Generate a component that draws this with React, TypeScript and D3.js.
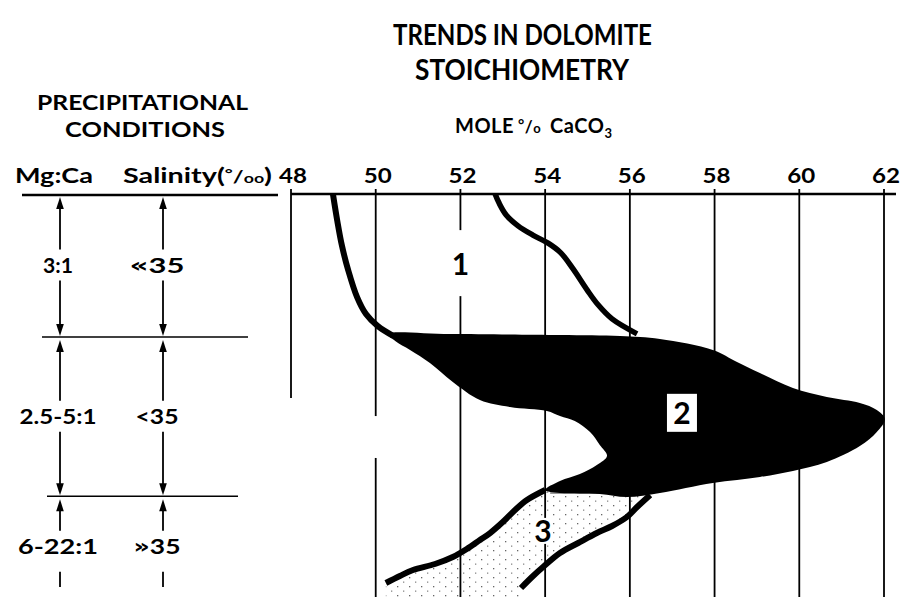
import React from 'react';
import * as d3 from 'd3';

const W = 913;
const H = 597;

// Mole % CaCO3 tick values
const xTicks = [48, 50, 52, 54, 56, 58, 60, 62];

// Vertical "depth" position (0 = top of diagram, 100 = bottom), zone boundaries of precipitational conditions
const zoneBounds = [0, 35.5, 75, 100];
const mgCaLabels = ['3:1', '2.5-5:1', '6-22:1'];
const salinityLabels = ['«35', '<35', '»35'];

// Field 1 boundaries [mole % CaCO3, depth]
const curve1Left: [number, number][] = [
  [48.99, 0], [49.09, 6.5], [49.2, 12.7], [49.35, 18.9], [49.56, 25.6], [49.77, 29.8], [50.05, 32.8], [50.41, 35.2],
];
const curve1Right: [number, number][] = [
  [52.82, 0], [52.91, 2.2], [53.08, 5.2], [53.36, 7.9], [53.71, 10.2], [54.07, 12.2], [54.37, 14.6],
  [54.66, 18.6], [54.99, 23.8], [55.25, 27.5], [55.58, 31.0], [56.17, 34.7],
];

// Field 2 (black) outline
const field2: [number, number][] = [
  [50.29, 34.74], [51.75, 34.74], [54.35, 34.99], [55.77, 35.24], [56.71, 35.98], [57.96, 38.71], [58.53, 41.69],
  [59.07, 44.42], [59.85, 48.14], [60.65, 50.37], [61.43, 51.86], [61.83, 53.6], [62.02, 55.83],
  [61.83, 59.06], [61.43, 62.53], [60.65, 66.5], [59.85, 68.73], [59.07, 70.22], [57.96, 71.71], [56.71, 74.19],
  [55.93, 75.19], [55.29, 74.44], [54.35, 74.19], [54.0, 73.45],
  [54.35, 71.22], [54.82, 69.48], [55.22, 67.25], [55.46, 65.01], [55.29, 62.28], [55.06, 59.06], [54.7, 56.33],
  [54.35, 55.09], [54.04, 53.85], [53.17, 52.85], [52.46, 51.12], [51.82, 46.65], [51.28, 41.94], [50.81, 38.71],
  [50.46, 36.48],
];

// Field 3 boundaries
const curve3Left: [number, number][] = [
  [54.0, 73.45], [53.57, 75.93], [53.29, 78.41], [53.0, 81.39], [52.7, 84.12], [52.46, 85.86], [52.15, 88.09],
  [51.82, 90.07], [51.4, 91.81], [50.88, 93.3], [50.57, 94.79], [50.24, 96.53],
];
const curve3Right: [number, number][] = [
  [56.48, 74.69], [56.17, 77.67], [55.93, 80.15], [55.58, 82.38], [55.22, 84.12], [54.78, 86.6], [54.35, 89.08],
  [53.95, 92.56], [53.69, 95.04], [53.43, 97.77],
];

// Grid line extents (depth ranges) per tick value
const gridSpans: [number, [number, number][]][] = [
  [48, [[0, 50.6]]],
  [50, [[0, 55.1], [65.5, 100]]],
  [52, [[0, 100]]],
  [54, [[0, 100]]],
  [56, [[0, 100]]],
  [58, [[0, 100]]],
  [60, [[0, 100]]],
  [62, [[0, 100]]],
];

const fieldLabels: [string, number, number][] = [
  ['1', 52.0, 17.4],
  ['2', 57.23, 54.3],
  ['3', 53.95, 83.6],
];

// layout: rendered widths of the table labels (px)
const mgCaWidths = [30, 77, 80];
const salWidths = [55, 43, 47];

export default function App() {
  const x = d3.scaleLinear().domain([48, 62]).range([291, 884]);
  const y = d3.scaleLinear().domain([0, 100]).range([194, 597]);

  const smooth = d3.line<[number, number]>().x(d => x(d[0])).y(d => y(d[1])).curve(d3.curveCatmullRom.alpha(0.5));
  const closedSmooth = d3.line<[number, number]>().x(d => x(d[0])).y(d => y(d[1])).curve(d3.curveCatmullRomClosed.alpha(0.5));
  const straight = d3.line<[number, number]>().x(d => x(d[0])).y(d => y(d[1]));

  const leftEnd = curve3Left[curve3Left.length - 1];
  const rightEnd = curve3Right[curve3Right.length - 1];
  const stipple: [number, number][] = [
    ...curve3Left.slice(0, 1),
    [curve3Right[0][0], curve3Right[0][1]],
    ...curve3Right,
    [rightEnd[0], 100],
    [leftEnd[0], 100],
    ...curve3Left.slice().reverse(),
  ];
  const topOf3Y = y(curve3Left[0][1]) + 3;

  const mgX = 60;
  const salX = 163;
  const font = 'Lato, "DejaVu Sans", sans-serif';

  const arrow = (cx: number, from: number, tip: number, key: string, head = true) => {
    const dir = tip < from ? -1 : 1;
    const hl = 12;
    const hw = 3.8;
    return (
      <g key={key}>
        <line x1={cx} x2={cx} y1={from} y2={head ? tip - dir * hl + dir : tip} stroke="#000" strokeWidth={1.8} />
        {head && (
          <path d={`M${cx},${tip} L${cx - hw},${tip - dir * hl} L${cx + hw},${tip - dir * hl} Z`} fill="#000" />
        )}
      </g>
    );
  };

  const salText = (s: string) => {
    const first = s[0];
    const rest = s.slice(1);
    if (first === '«' || first === '»') {
      return (
        <>
          <tspan fontFamily='"DejaVu Sans", sans-serif' fontSize={20} dy={-1}>{first}</tspan>
          <tspan dy={1}>{rest}</tspan>
        </>
      );
    }
    return s;
  };

  return (
    <svg width={W} height={H} style={{ position: 'absolute', left: 0, top: 0, background: '#fff' }} fontFamily={font}>
      <defs>
        <pattern id="dots" width="12" height="9" patternUnits="userSpaceOnUse">
          <rect x="1" y="1" width="1.3" height="1.3" fill="#666" />
          <rect x="7" y="5.5" width="1.3" height="1.3" fill="#888" />
        </pattern>
      </defs>
      <rect width={W} height={H} fill="#fff" />

      {/* Title */}
      <g fontWeight={700} fontSize={28} fill="#000">
        <text x={393} y={45} textLength={259} lengthAdjust="spacingAndGlyphs">TRENDS IN DOLOMITE</text>
        <text x={415} y={80} textLength={214} lengthAdjust="spacingAndGlyphs">STOICHIOMETRY</text>
      </g>
      <g fontWeight={700} fontSize={20} fill="#000">
        <text x={37} y={110} textLength={211} lengthAdjust="spacingAndGlyphs">PRECIPITATIONAL</text>
        <text x={65} y={137} textLength={160} lengthAdjust="spacingAndGlyphs">CONDITIONS</text>
      </g>
      <text x={455} y={133} fontWeight={700} fontSize={20} letterSpacing={0.5}>
        MOLE<tspan dx={4} dy={-3} fontSize={15}>°</tspan>
        <tspan dy={3} fontSize={17}>/</tspan>
        <tspan fontSize={13}>o</tspan>
        <tspan dx={9}>CaCO</tspan>
        <tspan fontSize={13} dy={5}>3</tspan>
      </text>

      {/* Column headers */}
      <text x={15} y={183} fontWeight={700} fontSize={21} textLength={78} lengthAdjust="spacingAndGlyphs">Mg:Ca</text>
      <text x={123} y={183} fontWeight={700} fontSize={21} textLength={149} lengthAdjust="spacingAndGlyphs">
        Salinity(<tspan fontSize={14} dy={-5}>°</tspan>
        <tspan dy={5} fontSize={17}>/</tspan>
        <tspan fontSize={13}>oo</tspan>)
      </text>

      {/* Tick labels */}
      <g fontWeight={700} fontSize={21}>
        {xTicks.map(t => (
          <text key={t} x={x(t) + 2 - 14} y={183} textLength={28} lengthAdjust="spacingAndGlyphs">{t}</text>
        ))}
      </g>

      {/* Grid lines */}
      <g stroke="#000" strokeWidth={1.8}>
        {gridSpans.map(([v, spans]) =>
          spans.map((s, i) => (
            <line key={`${v}-${i}`} x1={x(v)} x2={x(v)} y1={s[0] === 0 ? y(0) - 5 : y(s[0])} y2={y(s[1])} />
          ))
        )}
      </g>
      {/* axis line */}
      <line x1={x(48)} x2={x(62) + 12} y1={y(0)} y2={y(0)} stroke="#000" strokeWidth={2.6} />

      {/* Left table lines */}
      <line x1={22} x2={278} y1={y(zoneBounds[0]) + 1} y2={y(zoneBounds[0]) + 1} stroke="#000" strokeWidth={2.4} />
      <line x1={42} x2={248} y1={y(zoneBounds[1])} y2={y(zoneBounds[1])} stroke="#000" strokeWidth={1.6} />
      <line x1={47} x2={238} y1={y(zoneBounds[2])} y2={y(zoneBounds[2])} stroke="#000" strokeWidth={1.6} />

      {/* Left table labels and arrows */}
      {mgCaLabels.map((lab, i) => {
        const top = y(zoneBounds[i]);
        const bot = y(zoneBounds[i + 1]);
        const cy = (top + bot) / 2;
        const last = i === mgCaLabels.length - 1;
        return (
          <g key={lab}>
            <text x={mgX - 2 - mgCaWidths[i] / 2} y={cy + 7.5} fontWeight={700} fontSize={21}
              textLength={mgCaWidths[i]} lengthAdjust="spacingAndGlyphs">{lab}</text>
            <text x={salX - 6 - salWidths[i] / 2} y={cy + 7.5} fontWeight={700} fontSize={21}
              textLength={salWidths[i]} lengthAdjust="spacingAndGlyphs">{salText(salinityLabels[i])}</text>
            {[mgX, salX].map(cx => (
              <g key={cx}>
                {arrow(cx, cy - 16, top + 3, `u${cx}`)}
                {last
                  ? arrow(cx, cy + 25, bot - 10, `d${cx}`, false)
                  : arrow(cx, cy + 15, bot - 1, `d${cx}`)}
              </g>
            ))}
          </g>
        );
      })}

      {/* Field 3 stipple */}
      <path d={straight(stipple) || ''} fill="url(#dots)" />
      <line x1={x(curve3Left[0][0]) + 5} x2={x(curve3Right[0][0]) - 8} y1={topOf3Y} y2={topOf3Y} stroke="#777" strokeWidth={1.5} />

      {/* Field 2 */}
      <path d={closedSmooth(field2) || ''} fill="#000" />

      {/* Boundaries */}
      <g fill="none" stroke="#000" strokeWidth={5.5} strokeLinecap="butt">
        <path d={smooth(curve1Left) || ''} strokeWidth={6} />
        <path d={smooth(curve1Right) || ''} />
        <path d={smooth(curve3Left) || ''} strokeWidth={6} />
        <path d={smooth(curve3Right) || ''} strokeWidth={6} />
      </g>

      {/* Field labels */}
      {fieldLabels.map(([t, vx, vy]) => {
        const cx = x(vx);
        const cy = y(vy);
        return (
          <g key={t}>
            {t === '1' && <rect x={cx - 10} y={cy - 34} width={20} height={66} fill="#fff" />}
            {t === '2' && <rect x={cx - 15} y={cy - 19} width={30} height={38} fill="#fff" />}
            {t === '3' && <rect x={cx - 10} y={cy - 13} width={20} height={26} fill="#fff" />}
            <text x={cx} y={cy + 11} fontWeight={700} fontSize={30} textAnchor="middle">{t}</text>
          </g>
        );
      })}
    </svg>
  );
}
